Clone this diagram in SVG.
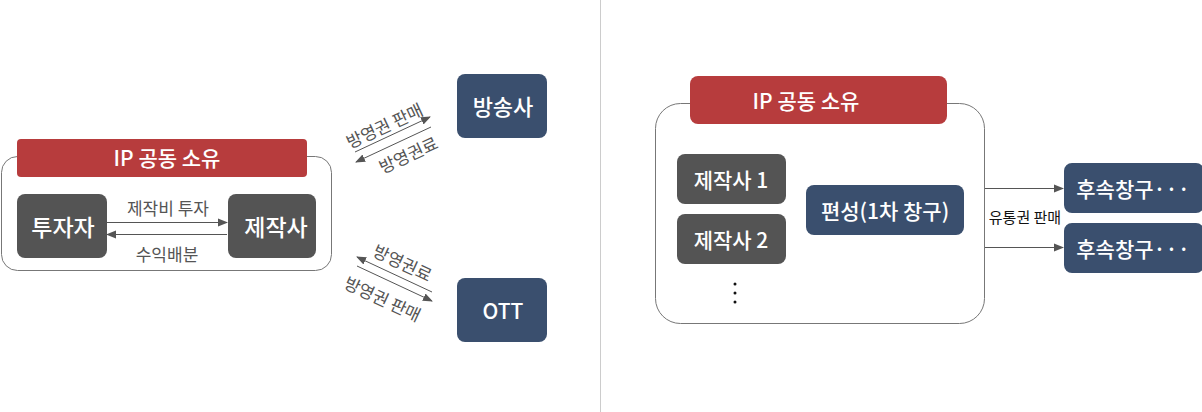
<svg xmlns="http://www.w3.org/2000/svg" width="1202" height="412" viewBox="0 0 1202 412">
<defs>
<style>
.t{font-family:"Noto Sans CJK KR","Noto Sans",sans-serif;text-anchor:middle;dominant-baseline:central}
.w{fill:#fff;font-weight:500}
.frame{fill:#fff;stroke:#777;stroke-width:1}
.red{fill:#b73c3d}
.gray{fill:#545454}
.navy{fill:#3a4f6e}
.ln{stroke:#555;stroke-width:1;fill:none}
.lbl{fill:#555;font-size:17px}
</style>
<marker id="ah" viewBox="0 0 10 10" refX="9" refY="5" markerWidth="10" markerHeight="10" markerUnits="userSpaceOnUse" orient="auto-start-reverse">
<path d="M0,1 L10,5 L0,9 z" fill="#555"/>
</marker>
</defs>
<rect width="1202" height="412" fill="#fff"/>
<line x1="600.5" y1="0" x2="600.5" y2="412" stroke="#ccc" stroke-width="1"/>

<g id="left-frame">
<rect class="frame" x="1.5" y="156.5" width="330" height="114" rx="16"/>
</g>
<g id="left-banner">
<rect class="red" x="17" y="139" width="290" height="38" rx="4"/>
<text class="t w" x="167" y="157" font-size="21">IP 공동 소유</text>
</g>
<g id="investor">
<rect class="gray" x="17" y="194" width="90" height="64" rx="8"/>
<text class="t w" x="63" y="226" font-size="23">투자자</text>
</g>
<g id="producer">
<rect class="gray" x="228" y="194" width="88" height="64" rx="8"/>
<text class="t w" x="276" y="226" font-size="23">제작사</text>
</g>
<g id="broadcaster">
<rect class="navy" x="457" y="74" width="90" height="64" rx="8"/>
<text class="t w" x="503" y="105" font-size="22">방송사</text>
</g>
<g id="ott">
<rect class="navy" x="457" y="278" width="90" height="64" rx="8"/>
<text class="t w" x="503" y="310" font-size="21">OTT</text>
</g>

<g id="right-frame">
<rect class="frame" x="655.5" y="103.5" width="329" height="220" rx="25"/>
</g>
<g id="right-banner">
<rect class="red" x="690" y="76" width="257" height="48" rx="8"/>
<text class="t w" x="806" y="100" font-size="21">IP 공동 소유</text>
</g>
<g id="producer1">
<rect class="gray" x="677" y="154" width="109" height="50" rx="8"/>
<text class="t w" x="731" y="179" font-size="21">제작사 1</text>
</g>
<g id="producer2">
<rect class="gray" x="677" y="214" width="109" height="50" rx="8"/>
<text class="t w" x="731" y="239" font-size="21">제작사 2</text>
</g>
<g id="ellipsis">
<circle cx="735" cy="284" r="1.5" fill="#111"/>
<circle cx="735" cy="293" r="1.5" fill="#111"/>
<circle cx="735" cy="302" r="1.5" fill="#111"/>
</g>
<g id="first-window">
<rect class="navy" x="806" y="185" width="158" height="50" rx="8"/>
<text class="t w" x="885" y="210" font-size="21">편성(1차 창구)</text>
</g>
<g id="next-window1">
<rect class="navy" x="1064" y="163" width="140" height="50" rx="8"/>
<text class="t w" x="1133" y="188" font-size="21">후속창구···</text>
</g>
<g id="next-window2">
<rect class="navy" x="1064" y="223" width="140" height="50" rx="8"/>
<text class="t w" x="1133" y="248" font-size="21">후속창구···</text>
</g>

<g id="connectors">
<line class="ln" x1="107" y1="222.5" x2="227" y2="222.5" marker-end="url(#ah)"/>
<line class="ln" x1="227" y1="234.5" x2="107" y2="234.5" marker-end="url(#ah)"/>
<text class="t lbl" x="168" y="207">제작비 투자</text>
<text class="t lbl" x="167" y="253">수익배분</text>

<line class="ln" x1="355" y1="152" x2="430" y2="117" marker-end="url(#ah)"/>
<line class="ln" x1="431" y1="127" x2="356" y2="162" marker-end="url(#ah)"/>
<text class="t lbl" transform="translate(384,125) rotate(-25)">방영권 판매</text>
<text class="t lbl" transform="translate(408,154) rotate(-25)">방영권료</text>

<line class="ln" x1="432" y1="292" x2="357" y2="257" marker-end="url(#ah)"/>
<line class="ln" x1="357" y1="266" x2="432" y2="301" marker-end="url(#ah)"/>
<text class="t lbl" transform="translate(403,262) rotate(25)">방영권료</text>
<text class="t lbl" transform="translate(383,298) rotate(25)">방영권 판매</text>

<line class="ln" x1="985" y1="188.5" x2="1063" y2="188.5" marker-end="url(#ah)"/>
<line class="ln" x1="985" y1="247.5" x2="1063" y2="247.5" marker-end="url(#ah)"/>
<text class="t" x="1025" y="216" font-size="15" fill="#111">유통권 판매</text>
</g>
</svg>
